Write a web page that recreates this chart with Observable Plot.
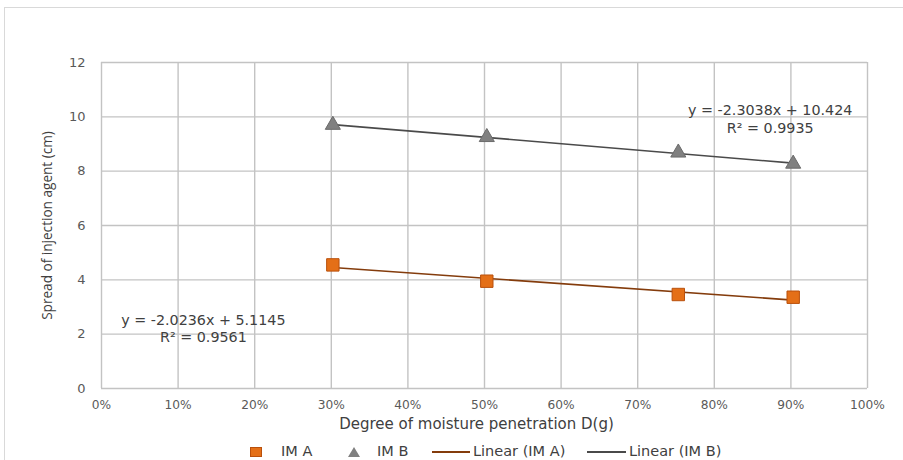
<!DOCTYPE html>
<html>
<head>
<meta charset="utf-8">
<script src="https://cdn.jsdelivr.net/npm/d3@7"></script>
<script src="https://cdn.jsdelivr.net/npm/@observablehq/plot@0.6"></script>
<style>
  html, body { margin: 0; padding: 0; background: #fff; }
  body { width: 903px; height: 460px; position: relative; overflow: hidden; font-family: "DejaVu Sans", sans-serif; }
  #frame { position: absolute; left: 4px; top: 7px; width: 960px; height: 500px; border: 1.5px solid #d9d9d9; box-sizing: border-box; }
  #chart { position: absolute; left: 0; top: 0; }
  #legend { position: absolute; left: 0; top: 443px; width: 903px; height: 17px; font-size: 14.5px; color: #404040; white-space: nowrap; }
  #legend > * { position: absolute; }
  #legend span { top: 0; line-height: 17px; }
  .sq { top: 4px; width: 12px; height: 10px; background: #e46f17; border: 1px solid #b9500c; box-sizing: border-box; }
  .tri { top: 4px; width: 0; height: 0; border-left: 6px solid transparent; border-right: 6px solid transparent; border-bottom: 10px solid #808080; }
  .ln { top: 8px; height: 0; border-top: 2px solid; }
</style>
</head>
<body>
<div id="frame"></div>
<div id="chart"></div>
<div id="legend"></div>
<script>
// Data
const moisture = [0.302, 0.503, 0.753, 0.903];   // Degree of moisture penetration D(g)
const imA = [4.55, 3.95, 3.46, 3.36];             // IM A spread (cm)
const imB = [9.70, 9.25, 8.68, 8.27];             // IM B spread (cm)
const xTicks = [0, 0.1, 0.2, 0.3, 0.4, 0.5, 0.6, 0.7, 0.8, 0.9, 1.0];
const yTicks = [0, 2, 4, 6, 8, 10, 12];
const eqA = ["y = -2.0236x + 5.1145", "R² = 0.9561"];
const eqB = ["y = -2.3038x + 10.424", "R² = 0.9935"];
const seriesNames = ["IM A", "IM B", "Linear (IM A)", "Linear (IM B)"];

const dataA = moisture.map((x, i) => ({x, y: imA[i]}));
const dataB = moisture.map((x, i) => ({x, y: imB[i]}));

const colA = "#e46f17", colAStroke = "#b9500c", trendA = "#843c0c";
const colB = "#808080", colBStroke = "#6a6a6a", trendB = "#4a4a4a";
const gridCol = "#c3c3c3";
const font = "'DejaVu Sans', sans-serif";
const eqStyle = {textAnchor: "middle", fontSize: 14.3, fill: "#404040"};

const chart = Plot.plot({
  width: 903,
  height: 440,
  marginLeft: 101,
  marginRight: 36,
  marginTop: 62,
  marginBottom: 52,
  style: {fontFamily: font, fontSize: "12.2px", color: "#595959", background: "transparent"},
  x: {domain: [0, 1]},
  y: {domain: [0, 12]},
  marks: [
    Plot.gridX(xTicks, {stroke: gridCol, strokeOpacity: 1, strokeWidth: 1.4}),
    Plot.gridY(yTicks, {stroke: gridCol, strokeOpacity: 1, strokeWidth: 1.4}),
    Plot.axisX(xTicks, {tickSize: 0, tickPadding: 12, tickFormat: d3.format(".0%"), label: null, fill: "#595959"}),
    Plot.axisY(yTicks, {tickSize: 0, tickPadding: 16, label: null, fill: "#595959", fontSize: 13}),
    Plot.linearRegressionY(dataA, {x: "x", y: "y", stroke: trendA, strokeWidth: 1.6, ci: 0}),
    Plot.linearRegressionY(dataB, {x: "x", y: "y", stroke: trendB, strokeWidth: 1.6, ci: 0}),
    Plot.dot(dataA, {x: "x", y: "y", symbol: "square", r: 7, fill: colA, stroke: colAStroke, strokeWidth: 1}),
    Plot.dot(dataB, {x: "x", y: "y", symbol: "triangle", r: 5.6, fill: colB, stroke: colBStroke, strokeWidth: 1}),
    Plot.text([eqA[0]], {x: 0.133, y: 2.50, text: d => d, ...eqStyle}),
    Plot.text([eqA[1]], {x: 0.133, y: 1.87, text: d => d, ...eqStyle}),
    Plot.text([eqB[0]], {x: 0.873, y: 10.22, text: d => d, ...eqStyle}),
    Plot.text([eqB[1]], {x: 0.873, y: 9.59, text: d => d, ...eqStyle}),
    Plot.text(["Degree of moisture penetration D(g)"], {frameAnchor: "bottom", dx: -8, dy: 40, text: d => d, textAnchor: "middle", fontSize: 15, fill: "#404040"}),
    Plot.text(["Spread of injection agent (cm)"], {frameAnchor: "left", dx: -54, rotate: -90, text: d => d, textAnchor: "middle", fontSize: 13.6, fontFamily: "'Open Sans', sans-serif", fill: "#404040"})
  ]
});
document.getElementById("chart").append(chart);

// Legend
const legend = document.getElementById("legend");
function put(cls, left, opts = {}) {
  const el = document.createElement(cls === "span" ? "span" : "div");
  if (cls !== "span") el.className = cls;
  el.style.left = left + "px";
  if (opts.text) el.textContent = opts.text;
  if (opts.width) el.style.width = opts.width + "px";
  if (opts.color) el.style.borderTopColor = opts.color;
  legend.append(el);
}
put("sq", 250);
put("span", 281, {text: seriesNames[0]});
put("tri", 348);
put("span", 377, {text: seriesNames[1]});
put("ln", 432, {width: 38, color: trendA});
put("span", 473, {text: seriesNames[2]});
put("ln", 587, {width: 39, color: trendB});
put("span", 629, {text: seriesNames[3]});
</script>
</body>
</html>
